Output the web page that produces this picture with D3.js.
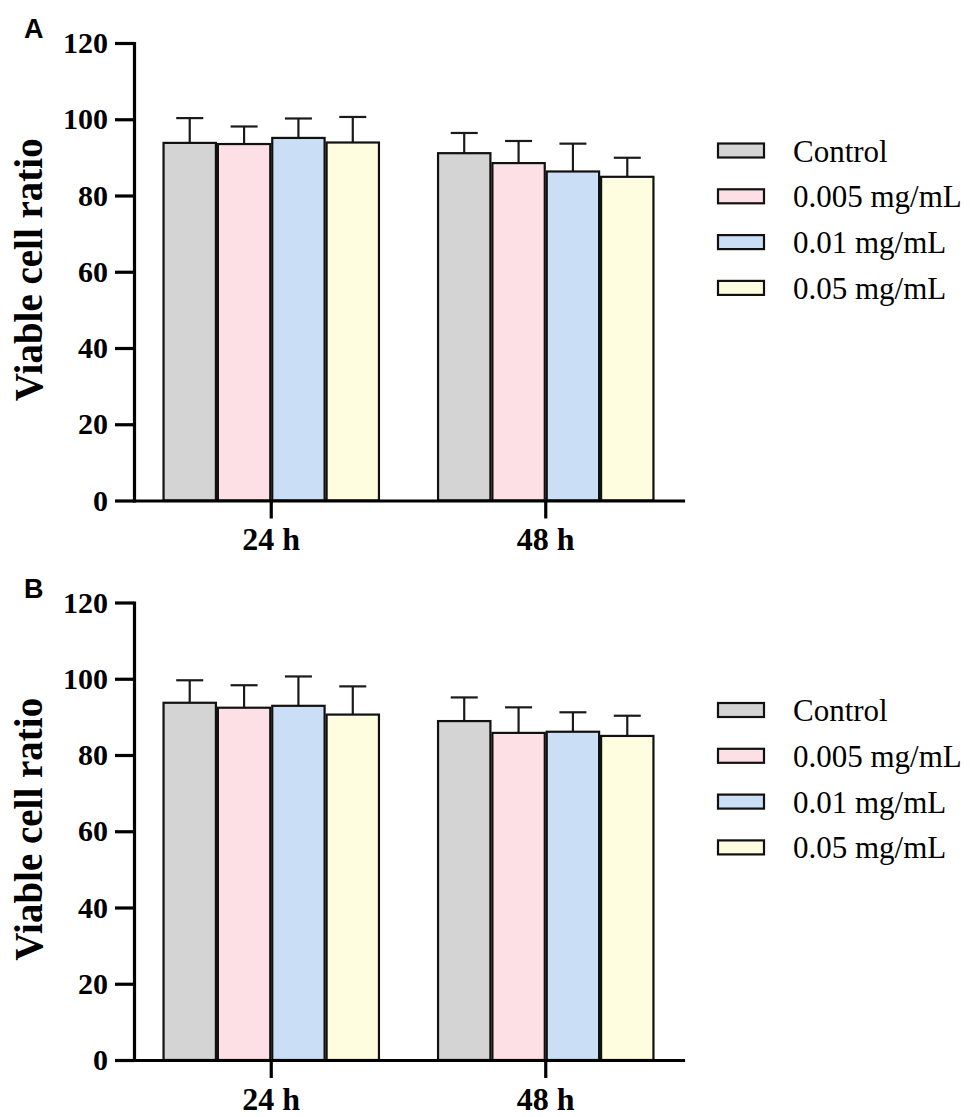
<!DOCTYPE html>
<html>
<head>
<meta charset="utf-8">
<script src="https://cdn.jsdelivr.net/npm/d3@7"></script>
<style>
  body { margin: 0; background: #fff; }
  svg text { font-family: 'Liberation Serif', 'Times New Roman', serif; }
</style>
</head>
<body>
<script>
var groups = ['24 h', '48 h']
var series = ['Control', '0.005 mg/mL', '0.01 mg/mL', '0.05 mg/mL']
var colors = ['#d4d4d4', '#fde0e5', '#cadff5', '#fefde0']
var y_ticks = [0, 20, 40, 60, 80, 100, 120]

// panel A, rows = groups, cols = series
var a_means = [[93.8, 93.5, 95.1, 93.9], [91.1, 88.5, 86.3, 84.9]]
var a_errors = [[6.5, 4.6, 5.1, 6.7], [5.3, 5.8, 7.3, 5.0]]

// panel B
var b_means = [[93.7, 92.4, 92.9, 90.6], [88.9, 85.8, 86.1, 85.0]]
var b_errors = [[5.9, 5.9, 7.7, 7.4], [6.2, 6.7, 5.1, 5.3]]

var svg = d3.select('body').append('svg').attr('width', 970).attr('height', 1117)

draw_panel('A', a_means, a_errors, 0)
draw_panel('B', b_means, b_errors, 559.5)

function draw_panel (letter, means, errors, off) {
  var g = svg.append('g').attr('transform', 'translate(0,' + off + ')')
  var x0 = 134
  var x1 = 683
  var y = d3.scaleLinear().domain([0, 120]).range([500.5, 43])
  var x = d3.scaleBand().domain(groups).range([x0, x1]).padding(0)
  var xs = d3.scaleBand().domain(series).range([-108.7, 108.7]).padding(0)
  var bw = xs.bandwidth() - 2

  // panel letter
  g.append('text').attr('x', 24).attr('y', 38)
    .style('font-family', "'Liberation Sans', Arial, sans-serif")
    .style('font-weight', 'bold').style('font-size', '27px').text(letter)

  // y label
  g.append('text')
    .attr('transform', 'translate(42,' + ((y(0) + y(120)) / 2 - 2) + ') rotate(-90)')
    .attr('text-anchor', 'middle')
    .style('font-weight', 'bold').style('font-size', '39px')
    .text('Viable cell ratio')

  // bars
  groups.forEach(function (grp, gi) {
    var cx = x(grp) + x.bandwidth() / 2
    series.forEach(function (s, si) {
      var v = means[gi][si]
      var e = errors[gi][si]
      var bx = cx + xs(s) + 1
      var mid = bx + bw / 2
      // error bar (upper only)
      g.append('line').attr('x1', mid).attr('x2', mid).attr('y1', y(v)).attr('y2', y(v + e))
        .attr('stroke', '#1a1a1a').attr('stroke-width', 2.2)
      g.append('line').attr('x1', mid - 13.5).attr('x2', mid + 13.5).attr('y1', y(v + e)).attr('y2', y(v + e))
        .attr('stroke', '#1a1a1a').attr('stroke-width', 2.2)
      g.append('rect').attr('x', bx).attr('y', y(v)).attr('width', bw).attr('height', y(0) - y(v))
        .attr('fill', colors[si]).attr('stroke', '#111').attr('stroke-width', 2.2)
    })
  })

  // axes
  var ya = g.append('g').attr('transform', 'translate(' + x0 + ',0)')
    .call(d3.axisLeft(y).tickValues(y_ticks).tickSize(19).tickSizeOuter(0).tickPadding(7))
  var xa = g.append('g').attr('transform', 'translate(0,' + y(0) + ')')
    .call(d3.axisBottom(x).tickSize(18).tickSizeOuter(0).tickPadding(9))
  ;[ya, xa].forEach(function (a) {
    a.select('.domain').attr('stroke', '#000').attr('stroke-width', 3.2).attr('stroke-linecap', 'square')
    a.selectAll('.tick line').attr('stroke', '#000').attr('stroke-width', 3.2)
    a.selectAll('.tick text').attr('fill', '#000')
      .style('font-family', "'Liberation Serif', 'Times New Roman', serif")
      .style('font-weight', 'bold').style('font-size', '30px')
  })
  xa.selectAll('.tick text').style('font-size', '32px')

  // legend
  var lg = g.append('g').attr('transform', 'translate(718,150.5)')
  series.forEach(function (s, si) {
    var row = lg.append('g').attr('transform', 'translate(0,' + (si * 45.8) + ')')
    row.append('rect').attr('x', 0).attr('y', -7).attr('width', 46).attr('height', 14)
      .attr('fill', colors[si]).attr('stroke', '#111').attr('stroke-width', 2.2)
    row.append('text').attr('x', 75).attr('y', 11)
      .style('font-size', '31px').text(s)
  })
}
</script>
</body>
</html>
